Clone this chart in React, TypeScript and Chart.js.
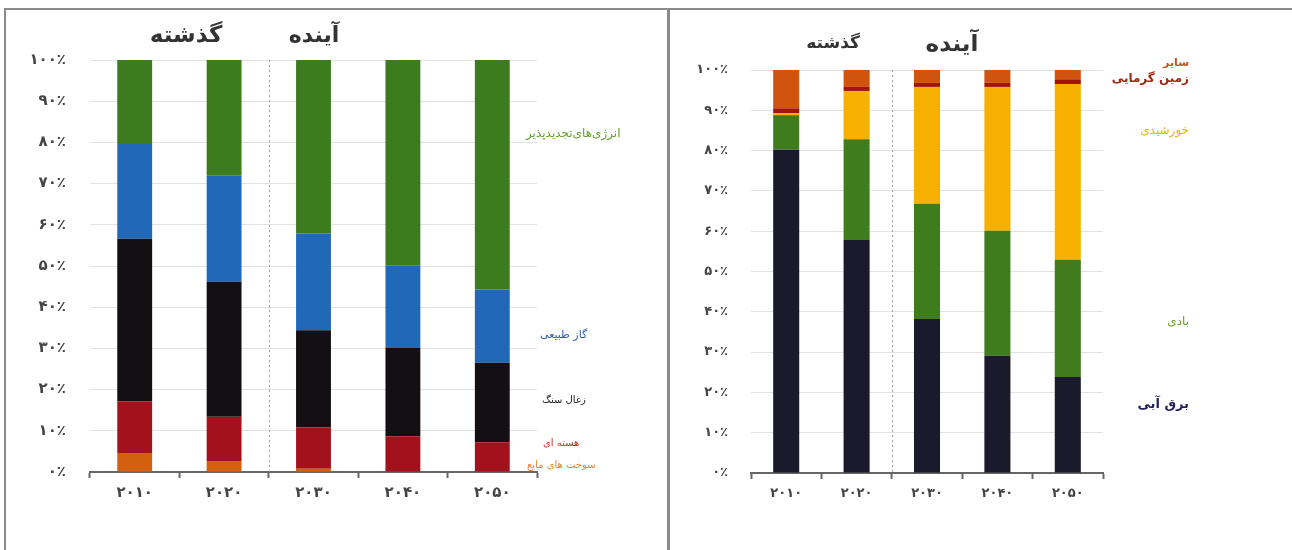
import React, { useEffect, useRef } from "react";
import { Chart, registerables } from "chart.js";

Chart.register(...registerables);

// ---------- shared ----------
const years = ["۲۰۱۰", "۲۰۲۰", "۲۰۳۰", "۲۰۴۰", "۲۰۵۰"];
const yTickLabels = ["۰٪", "۱۰٪", "۲۰٪", "۳۰٪", "۴۰٪", "۵۰٪", "۶۰٪", "۷۰٪", "۸۰٪", "۹۰٪", "۱۰۰٪"];
const pastLabel = "گذشته";
const futureLabel = "آینده";

// ---------- left chart: energy sources (%) ----------
const leftSeriesNames = ["سوخت های مایع", "هسته ای", "زغال سنگ", "گاز طبیعی", "انرژی‌های‌تجدیدپذیر"];
const liquidFuels = [4.6, 2.7, 0.8, 0, 0];
const nuclear = [12.6, 10.7, 10.0, 8.7, 7.2];
const coal = [39.4, 32.8, 23.6, 21.4, 19.3];
const naturalGas = [23.0, 25.7, 23.5, 20.1, 17.8];
const renewables = [20.4, 28.1, 42.1, 49.8, 55.7];

// ---------- right chart: renewable sources (%) ----------
const rightSeriesNames = ["برق آبی", "بادی", "خورشیدی", "زمین گرمایی", "سایر"];
const hydro = [80.3, 57.8, 38.2, 29.1, 23.8];
const wind = [8.5, 25.0, 28.6, 31.0, 29.1];
const solar = [0.5, 12.0, 29.0, 35.7, 43.6];
const geothermal = [1.2, 1.0, 1.0, 1.0, 1.2];
const other = [9.5, 4.2, 3.2, 3.2, 2.3];

const FONT = "'DejaVu Sans', sans-serif";

const decorPlugin = {
  id: "decor",
  beforeDatasetsDraw(chart: any, _args: any, opts: any) {
    const ctx = chart.ctx;
    const { top, bottom } = chart.chartArea;
    const xs = chart.scales.x;
    const sx = (xs.getPixelForValue(opts.sepAfter) + xs.getPixelForValue(opts.sepAfter + 1)) / 2;
    ctx.save();
    ctx.strokeStyle = "#a0a0a0";
    ctx.lineWidth = 1;
    ctx.setLineDash([2, 3]);
    ctx.beginPath();
    ctx.moveTo(Math.round(sx) + 0.5, top);
    ctx.lineTo(Math.round(sx) + 0.5, bottom);
    ctx.stroke();
    ctx.restore();
  },
  afterDraw(chart: any, _args: any, opts: any) {
    const ctx = chart.ctx;
    const ys = chart.scales.y;
    ctx.save();
    ctx.textBaseline = "middle";
    for (const t of opts.titles || []) {
      ctx.font = t.font;
      ctx.fillStyle = t.color;
      ctx.textAlign = "center";
      ctx.fillText(t.text, t.x, t.y);
    }
    for (const l of opts.labels || []) {
      ctx.font = l.font;
      ctx.fillStyle = l.color;
      ctx.textAlign = l.align;
      ctx.fillText(l.text, l.x, ys.getPixelForValue(l.v));
    }
    ctx.restore();
  },
};

function makeConfig(datasets: any[], p: any) {
  return {
    type: "bar",
    data: { labels: years, datasets },
    plugins: [decorPlugin],
    options: {
      animation: false,
      responsive: false,
      events: [],
      layout: { padding: p.padding },
      datasets: {
        bar: { categoryPercentage: 1, barPercentage: p.barPct, borderWidth: 0 },
      },
      scales: {
        x: {
          stacked: true,
          afterFit: (s: any) => {
            s.height = 40;
          },
          grid: {
            drawOnChartArea: false,
            drawTicks: true,
            tickLength: 6,
            tickColor: "#666",
            tickWidth: 2,
            offset: true,
          },
          border: { display: true, color: "#666", width: 2 },
          ticks: {
            padding: p.xPad,
            color: "#444",
            font: { family: FONT, size: p.xTickSize, weight: "bold" },
            maxRotation: 0,
          },
        },
        y: {
          stacked: true,
          min: 0,
          max: 100,
          afterFit: (s: any) => {
            s.width = p.yWidth;
          },
          grid: { color: "#e2e2e2", lineWidth: 1, drawTicks: false },
          border: { display: false },
          ticks: {
            stepSize: 10,
            padding: p.yPad,
            color: "#444",
            font: { family: FONT, size: p.yTickSize, weight: "bold" },
            callback: (_v: any, i: number) => yTickLabels[i],
          },
        },
      },
      plugins: {
        legend: { display: false },
        tooltip: { enabled: false },
        title: { display: false },
        decor: { sepAfter: 1, titles: p.titles, labels: p.labels },
      },
    },
  };
}

export default function App() {
  const leftRef = useRef<HTMLCanvasElement>(null);
  const rightRef = useRef<HTMLCanvasElement>(null);

  useEffect(() => {
    const leftDatasets = [
      { label: leftSeriesNames[0], data: liquidFuels, backgroundColor: "#d2600e" },
      { label: leftSeriesNames[1], data: nuclear, backgroundColor: "#a3111c" },
      { label: leftSeriesNames[2], data: coal, backgroundColor: "#130f12" },
      { label: leftSeriesNames[3], data: naturalGas, backgroundColor: "#2268b8" },
      { label: leftSeriesNames[4], data: renewables, backgroundColor: "#3d7b1f" },
    ];
    const rightDatasets = [
      { label: rightSeriesNames[0], data: hydro, backgroundColor: "#1b1a2c" },
      { label: rightSeriesNames[1], data: wind, backgroundColor: "#3f7c1e" },
      { label: rightSeriesNames[2], data: solar, backgroundColor: "#f5b000" },
      { label: rightSeriesNames[3], data: geothermal, backgroundColor: "#a2150c" },
      { label: rightSeriesNames[4], data: other, backgroundColor: "#d1540e" },
    ];

    const left = new Chart(
      leftRef.current as HTMLCanvasElement,
      makeConfig(leftDatasets, {
        padding: { left: 0, right: 131, top: 60, bottom: 38 },
        barPct: 0.39,
        yWidth: 90,
        yPad: 24,
        xPad: 6,
        yTickSize: 15,
        xTickSize: 15,
        titles: [
          { text: pastLabel, x: 186, y: 36, font: `bold 23px ${FONT}`, color: "#333" },
          { text: futureLabel, x: 314, y: 36, font: `bold 22px ${FONT}`, color: "#333" },
        ],
        labels: [
          { text: leftSeriesNames[4], v: 82.0, x: 526, align: "left", font: `12px ${FONT}`, color: "#62a126" },
          { text: leftSeriesNames[3], v: 33.2, x: 540, align: "left", font: `11px ${FONT}`, color: "#2d58a8" },
          { text: leftSeriesNames[2], v: 17.4, x: 542, align: "left", font: `10px ${FONT}`, color: "#222" },
          { text: leftSeriesNames[1], v: 7.0, x: 543, align: "left", font: `10px ${FONT}`, color: "#c2352a" },
          { text: leftSeriesNames[0], v: 1.6, x: 527, align: "left", font: `10px ${FONT}`, color: "#e5842f" },
        ],
      }) as any
    );

    const right = new Chart(
      rightRef.current as HTMLCanvasElement,
      makeConfig(rightDatasets, {
        padding: { left: 0, right: 189, top: 70, bottom: 37 },
        barPct: 0.37,
        yWidth: 81,
        yPad: 23,
        xPad: 7,
        yTickSize: 13,
        xTickSize: 13,
        titles: [
          { text: pastLabel, x: 163, y: 44, font: `bold 17px ${FONT}`, color: "#333" },
          { text: futureLabel, x: 282, y: 45, font: `bold 23px ${FONT}`, color: "#333" },
        ],
        labels: [
          { text: rightSeriesNames[4], v: 101.8, x: 519, align: "right", font: `bold 11px ${FONT}`, color: "#c4521c" },
          { text: rightSeriesNames[3], v: 97.9, x: 519, align: "right", font: `bold 12px ${FONT}`, color: "#a02812" },
          { text: rightSeriesNames[2], v: 84.9, x: 519, align: "right", font: `12px ${FONT}`, color: "#eeb000" },
          { text: rightSeriesNames[1], v: 37.5, x: 519, align: "right", font: `12px ${FONT}`, color: "#6b9b22" },
          { text: rightSeriesNames[0], v: 16.9, x: 519, align: "right", font: `bold 13px ${FONT}`, color: "#23235e" },
        ],
      }) as any
    );

    return () => {
      left.destroy();
      right.destroy();
    };
  }, []);

  return (
    <div
      style={{
        position: "fixed",
        left: 0,
        top: 0,
        width: 1292,
        height: 550,
        background: "#fff",
        overflow: "hidden",
      }}
    >
      <canvas
        ref={leftRef}
        width={668}
        height={550}
        style={{ position: "absolute", left: 0, top: 0, width: 668, height: 550 }}
      />
      <canvas
        ref={rightRef}
        width={622}
        height={550}
        style={{ position: "absolute", left: 670, top: 0, width: 622, height: 550 }}
      />
      <div style={{ position: "absolute", left: 4, top: 8, width: 1288, height: 2, background: "#8a8a8a" }} />
      <div style={{ position: "absolute", left: 4, top: 8, width: 2, height: 542, background: "#8a8a8a" }} />
      <div style={{ position: "absolute", left: 667, top: 8, width: 3, height: 542, background: "#8a8a8a" }} />
    </div>
  );
}
